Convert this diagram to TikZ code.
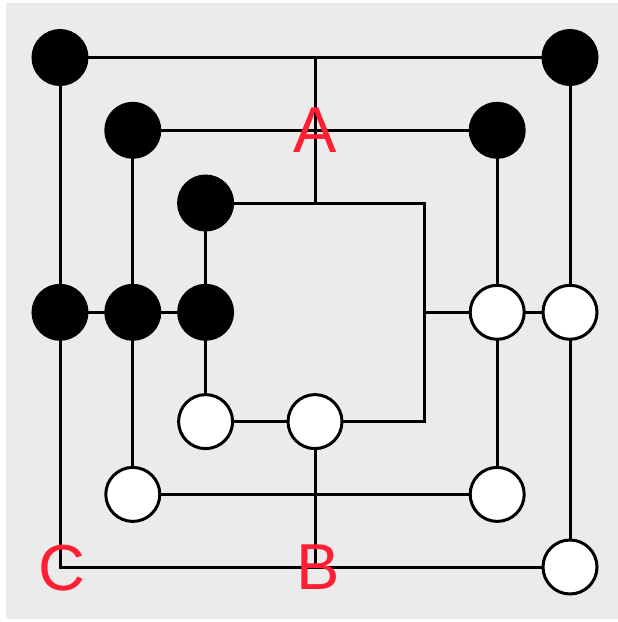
\documentclass[tikz,border=0pt]{standalone}
\usepackage{fontspec}
\setmainfont{Liberation Sans}
\definecolor{bggray}{RGB}{235,235,235}
\definecolor{lblred}{RGB}{255,30,50}
\begin{document}
\begin{tikzpicture}[x=1pt,y=-1pt,
  line/.style={line width=3pt,black,line join=miter},
  blackstone/.style={circle,fill=black,draw=black,line width=3pt,minimum size=54pt,inner sep=0pt},
  whitestone/.style={circle,fill=white,draw=black,line width=3pt,minimum size=54pt,inner sep=0pt},
  lbl/.style={text=lblred,font=\fontsize{65}{65}\selectfont,inner sep=0pt,anchor=center}]
\useasboundingbox (0,0) rectangle (618,622);
\fill[bggray] (6,3) rectangle (618,619);
% positions
\coordinate (pb1) at (60,57.5);
\coordinate (pb2) at (570,57.5);
\coordinate (pb3) at (132.8,130.3);
\coordinate (pb4) at (497.2,130.3);
\coordinate (pb5) at (205.6,203);
\coordinate (pb6) at (60,312.3);
\coordinate (pb7) at (132.8,312.3);
\coordinate (pb8) at (205.6,312.3);
\coordinate (pw1) at (497.2,312.3);
\coordinate (pw2) at (570,312.3);
\coordinate (pw3) at (205.6,421.6);
\coordinate (pw4) at (315,421.6);
\coordinate (pw5) at (132.8,494.4);
\coordinate (pw6) at (497.2,494.4);
\coordinate (pw7) at (570,567);
\coordinate (cbl) at (60,567);
\coordinate (ctop) at (315,57.5);
\coordinate (cmid) at (315,130.3);
\coordinate (ca) at (315,203);
\coordinate (cir) at (424.4,203);
\coordinate (cim) at (424.4,312.3);
\coordinate (cibr) at (424.4,421.6);
\coordinate (cb) at (315,567);
% connectors
\draw[line] (pb1) -- (pb2) -- (pw2) -- (pw7) -- (cbl) -- (pb6) -- cycle;
\draw[line] (pb3) -- (pb4) -- (pw1) -- (pw6) -- (pw5) -- (pb7) -- cycle;
\draw[line] (pb5) -- (ca) -- (cir) -- (cim) -- (cibr) -- (pw4) -- (pw3) -- (pb8) -- cycle;
\draw[line] (ctop) -- (ca);
\draw[line] (pb6) -- (pb7) -- (pb8);
\draw[line] (cim) -- (pw1) -- (pw2);
\draw[line] (pw4) -- (cb);
% stones
\node[blackstone] (b1) at (pb1) {};
\node[blackstone] (b2) at (pb2) {};
\node[blackstone] (b3) at (pb3) {};
\node[blackstone] (b4) at (pb4) {};
\node[blackstone] (b5) at (pb5) {};
\node[blackstone] (b6) at (pb6) {};
\node[blackstone] (b7) at (pb7) {};
\node[blackstone] (b8) at (pb8) {};
\node[whitestone] (w1) at (pw1) {};
\node[whitestone] (w2) at (pw2) {};
\node[whitestone] (w3) at (pw3) {};
\node[whitestone] (w4) at (pw4) {};
\node[whitestone] (w5) at (pw5) {};
\node[whitestone] (w6) at (pw6) {};
\node[whitestone] (w7) at (pw7) {};
% labels
\node[lbl] (la) at (315,130) {A};
\node[lbl] (lb) at (318,567) {B};
\node[lbl] (lc) at (62,568) {C};
\end{tikzpicture}
\end{document}
